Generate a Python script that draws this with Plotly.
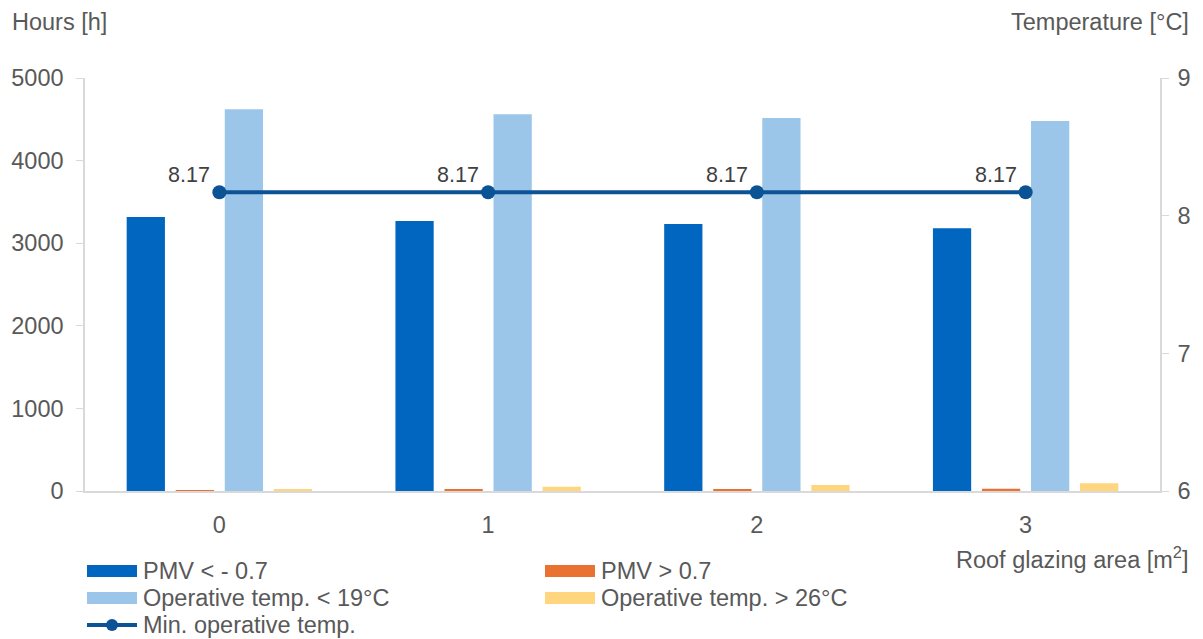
import plotly.graph_objects as go

# Roof glazing area scenarios [m2]
categories = ["0", "1", "2", "3"]

# Hours per year [h]
pmv_below = [3317, 3269, 3232, 3180]      # PMV < -0.7
pmv_above = [10, 15, 20, 28]              # PMV > 0.7
optemp_below = [4621, 4560, 4516, 4479]   # operative temp. < 19 °C
optemp_above = [22, 50, 72, 95]           # operative temp. > 26 °C

# Minimum operative temperature [°C]
min_optemp = [8.17, 8.17, 8.17, 8.17]

series_names = ["PMV < - 0.7", "PMV > 0.7", "Operative temp. < 19°C", "Operative temp. > 26°C"]
line_name = "Min. operative temp."

C_DARK = "#0066C0"
C_ORANGE = "#E97132"
C_LIGHT = "#9BC6EA"
C_YELLOW = "#FFD67D"
C_LINE = "#0B5394"
C_TEXT = "#595959"
C_AXIS = "#D9D9D9"
FONT = "Liberation Sans, Arial, sans-serif"
FS = 23.5

W, H = 1203, 639
ML, MR, MT, MB = 85, 43, 78, 148
PW, PH = W - ML - MR, H - MT - MB


def px(x):
    return (x - ML) / PW


def py(y):
    return (H - MB - y) / PH


fig = go.Figure()

bar_series = [pmv_below, pmv_above, optemp_below, optemp_above]
bar_colors = [C_DARK, C_ORANGE, C_LIGHT, C_YELLOW]
for name, vals, col in zip(series_names, bar_series, bar_colors):
    fig.add_trace(go.Bar(x=categories, y=vals, name=name, marker_color=col,
                         marker_line_width=0, showlegend=False))

fig.add_trace(go.Scatter(
    x=categories, y=min_optemp, name=line_name, yaxis="y2",
    mode="lines+markers",
    line=dict(color=C_LINE, width=4),
    marker=dict(color=C_LINE, size=14),
    showlegend=False,
))

annotations = []

# Value labels above-left of each temperature marker
for cat, val in zip(categories, min_optemp):
    annotations.append(dict(text=f"{val:.2f}", x=cat, y=val, xref="x", yref="y2",
                            xanchor="right", yanchor="bottom", xshift=-7, yshift=3,
                            showarrow=False,
                            font=dict(family=FONT, size=21.5, color="#404040")))

# Legend drawn as swatches + labels in two columns
shapes = []
legend_rows = [
    (571, 87, series_names[0], C_DARK),
    (571, 545, series_names[1], C_ORANGE),
    (598, 87, series_names[2], C_LIGHT),
    (598, 545, series_names[3], C_YELLOW),
]
for yc, x0, label, col in legend_rows:
    shapes.append(dict(type="rect", xref="paper", yref="paper",
                       x0=px(x0), x1=px(x0 + 50), y0=py(yc - 6), y1=py(yc + 6),
                       fillcolor=col, line_width=0))
    annotations.append(dict(text=label, xref="paper", yref="paper",
                            x=px(x0 + 54), y=py(yc), xanchor="left", yanchor="middle",
                            showarrow=False, font=dict(family=FONT, size=FS, color=C_TEXT)))
shapes.append(dict(type="line", xref="paper", yref="paper",
                   x0=px(87), x1=px(137), y0=py(625), y1=py(625),
                   line=dict(color=C_LINE, width=4)))
shapes.append(dict(type="circle", xref="paper", yref="paper",
                   x0=px(106), x1=px(118), y0=py(631), y1=py(619),
                   fillcolor=C_LINE, line_width=0))
annotations.append(dict(text=line_name, xref="paper", yref="paper",
                        x=px(141), y=py(625), xanchor="left", yanchor="middle",
                        showarrow=False, font=dict(family=FONT, size=FS, color=C_TEXT)))

# Axis titles
annotations += [
    dict(text="Hours [h]", xref="paper", yref="paper", x=px(10), y=py(22),
         xanchor="left", yanchor="middle", showarrow=False,
         font=dict(family=FONT, size=FS, color=C_TEXT)),
    dict(text="Temperature [°C]", xref="paper", yref="paper", x=px(1191), y=py(22),
         xanchor="right", yanchor="middle", showarrow=False,
         font=dict(family=FONT, size=FS, color=C_TEXT)),
    dict(text="Roof glazing area [m<sup>2</sup>]", xref="paper", yref="paper",
         x=px(1191), y=py(558), xanchor="right", yanchor="middle", showarrow=False,
         font=dict(family=FONT, size=FS, color=C_TEXT)),
]

fig.update_layout(
    width=W, height=H,
    margin=dict(l=ML, r=MR, t=MT, b=MB),
    paper_bgcolor="white", plot_bgcolor="white",
    barmode="group", bargap=0.27, bargroupgap=0.22,
    showlegend=False,
    font=dict(family=FONT, size=FS, color=C_TEXT),
    xaxis=dict(type="category", showgrid=False, showline=True, linecolor=C_AXIS,
               linewidth=2, ticks="", ticklabelstandoff=12,
               tickfont=dict(size=FS, color=C_TEXT)),
    yaxis=dict(range=[0, 5000], dtick=1000, showgrid=False, zeroline=False,
               showline=True, linecolor=C_AXIS, linewidth=1.5,
               ticks="outside", ticklen=7, tickcolor=C_AXIS, ticklabelstandoff=8,
               tickfont=dict(size=FS, color=C_TEXT)),
    yaxis2=dict(range=[6, 9], dtick=1, overlaying="y", side="right", showgrid=False,
                zeroline=False, showline=True, linecolor=C_AXIS, linewidth=1.5,
                ticks="outside", ticklen=7, tickcolor=C_AXIS, ticklabelstandoff=4,
                tickfont=dict(size=FS, color=C_TEXT)),
    shapes=shapes,
    annotations=annotations,
)

fig.write_html("out.html")
